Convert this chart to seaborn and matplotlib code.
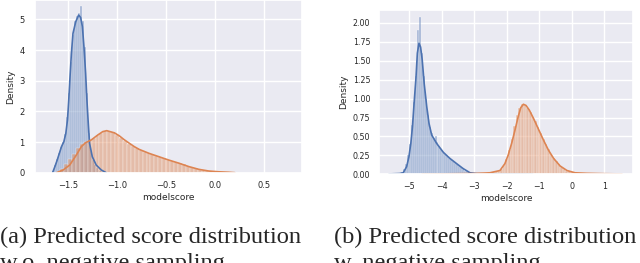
import numpy as np
import pandas as pd
import matplotlib
matplotlib.use("Agg")
import matplotlib.pyplot as plt
import seaborn as sns

sns.set_theme(style="darkgrid")

# ---------------- data ----------------
# (a) w.o. negative sampling
a_blue_start, a_blue_width = -1.66, 0.02
a_blue_hist = [0.05, 0.25, 0.45, 0.65, 0.85, 1.0, 1.25, 1.8, 2.6, 3.6, 4.5, 4.95, 5.1,
               5.2, 5.45, 4.95, 4.1, 2.6, 1.3, 0.7, 0.42, 0.25, 0.14, 0.08, 0.05, 0.03]
a_blue_kde_x = [-1.658, -1.634, -1.611, -1.591, -1.567, -1.543, -1.523, -1.506, -1.493,
                -1.48, -1.466, -1.45, -1.422, -1.392, -1.372, -1.354, -1.338, -1.321,
                -1.308, -1.294, -1.281, -1.253, -1.213, -1.162, -1.112]
a_blue_kde_y = [0.0, 0.2, 0.41, 0.61, 0.85, 1.01, 1.28, 1.72, 2.37,
                3.13, 3.89, 4.54, 4.92, 5.14, 5.06, 4.76, 4.1, 3.24,
                2.37, 1.61, 0.96, 0.52, 0.25, 0.09, 0.0]

a_orange_start, a_orange_width = -1.62, 0.04
a_orange_hist = [0.03, 0.12, 0.27, 0.45, 0.62, 0.82, 0.94, 1.0, 1.05, 1.12, 1.22, 1.3, 1.35,
                 1.37, 1.32, 1.24, 1.14, 1.04, 0.95, 0.86, 0.8, 0.74, 0.68, 0.64, 0.6,
                 0.56, 0.51, 0.47, 0.43, 0.39, 0.35, 0.31, 0.27, 0.22, 0.18, 0.14, 0.11,
                 0.08, 0.06, 0.05, 0.04, 0.03, 0.02, 0.015, 0.01]
a_orange_kde_x = [-1.617, -1.55, -1.483, -1.415, -1.365, -1.321, -1.263, -1.197, -1.146,
                  -1.106, -1.028, -0.977, -0.93, -0.876, -0.825, -0.775, -0.674, -0.573,
                  -0.472, -0.37, -0.27, -0.168, -0.067, 0.034, 0.135, 0.2]
a_orange_kde_y = [0.0, 0.09, 0.25, 0.58, 0.85, 0.98, 1.07, 1.23, 1.34,
                  1.37, 1.3, 1.2, 1.08, 0.96, 0.85, 0.76, 0.63, 0.52,
                  0.41, 0.31, 0.2, 0.11, 0.055, 0.03, 0.015, 0.0]

# (b) w. negative sampling
b_blue_start, b_blue_width = -5.60, 0.06
b_blue_hist = [0.005, 0.005, 0.005, 0.008, 0.01, 0.015, 0.03, 0.07, 0.14, 0.25, 0.4,
               0.65, 0.95, 1.3, 1.9, 2.08, 1.6, 1.3, 1.0, 0.78, 0.63, 0.55, 0.48, 0.5,
               0.43, 0.38, 0.34, 0.3, 0.27, 0.24, 0.22, 0.2, 0.17, 0.15, 0.13, 0.11,
               0.09, 0.07, 0.05, 0.04, 0.03, 0.02, 0.015, 0.01, 0.008]
b_blue_kde_x = [-5.62, -5.3, -5.185, -5.08, -5.01, -4.95, -4.9, -4.85, -4.79, -4.75,
                -4.7, -4.65, -4.6, -4.54, -4.46, -4.39, -4.31, -4.16, -3.95, -3.75,
                -3.54, -3.34, -3.13, -2.93, -2.5, -1.2]
b_blue_kde_y = [0.005, 0.01, 0.02, 0.1, 0.23, 0.41, 0.63, 0.94, 1.29, 1.6,
                1.73, 1.68, 1.51, 1.2, 0.89, 0.67, 0.52, 0.41, 0.29, 0.21,
                0.14, 0.075, 0.02, 0.01, 0.004, 0.0]

b_orange_start, b_orange_width = -3.0, 0.08
b_orange_hist = [0.01, 0.015, 0.02, 0.02, 0.02, 0.02, 0.02, 0.025, 0.03, 0.04, 0.07,
                 0.12, 0.2, 0.32, 0.47, 0.64, 0.78, 0.88, 0.93, 0.92, 0.88, 0.82, 0.76,
                 0.7, 0.63, 0.55, 0.47, 0.4, 0.33, 0.27, 0.22, 0.17, 0.13, 0.1, 0.07,
                 0.05, 0.04, 0.03, 0.025, 0.02, 0.02, 0.015, 0.012, 0.01, 0.01, 0.01,
                 0.008, 0.008, 0.007, 0.007, 0.006, 0.006, 0.005, 0.005, 0.005, 0.004,
                 0.004]
b_orange_kde_x = [-4.6, -3.0, -2.52, -2.21, -2.06, -1.96, -1.85, -1.75, -1.65, -1.57,
                  -1.49, -1.41, -1.31, -1.18, -1.03, -0.87, -0.72, -0.56, -0.36, -0.15,
                  0.1, 0.46, 1.0, 1.54]
b_orange_kde_y = [0.003, 0.01, 0.02, 0.05, 0.14, 0.25, 0.41, 0.58, 0.76, 0.88,
                  0.925, 0.91, 0.85, 0.74, 0.6, 0.45, 0.32, 0.21, 0.11, 0.05,
                  0.02, 0.013, 0.008, 0.005]

a_xticks = [-1.5, -1.0, -0.5, 0.0, 0.5]
a_xticklabels = ["\u22121.5", "\u22121.0", "\u22120.5", "0.0", "0.5"]
a_yticks = [0, 1, 2, 3, 4, 5]
b_xticks = [-5, -4, -3, -2, -1, 0, 1]
b_yticks = [0.0, 0.25, 0.5, 0.75, 1.0, 1.25, 1.5, 1.75, 2.0]

caption_a = ["(a) Predicted score distribution", "w.o. negative sampling"]
caption_b = ["(b) Predicted score distribution", "w. negative sampling"]

pal = sns.color_palette("deep")
BLUE, ORANGE = pal[0], pal[1]

W, H = 640, 263
fig = plt.figure(figsize=(W / 100, H / 100), dpi=100)


def add_ax(x0, y0, x1, y1):
    return fig.add_axes([x0 / W, 1 - y1 / H, (x1 - x0) / W, (y1 - y0) / H])


def draw_hist(ax, start, width, heights, color):
    n = len(heights)
    edges = [start + width * i for i in range(n + 1)]
    centers = [start + width * (i + 0.5) for i in range(n)]
    df = pd.DataFrame({"x": centers, "w": heights})
    sns.histplot(data=df, x="x", weights="w", bins=edges, stat="count",
                 color=color, alpha=0.45, edgecolor="white", linewidth=0.2, ax=ax)


def draw_kde(ax, xs, ys, color):
    sns.lineplot(x=xs, y=ys, color=color, linewidth=1.2, ax=ax, sort=False)


# ---- panel (a)
ax1 = add_ax(35, 0, 302, 172.7)
draw_hist(ax1, a_blue_start, a_blue_width, a_blue_hist, BLUE)
draw_kde(ax1, a_blue_kde_x, a_blue_kde_y, BLUE)
draw_hist(ax1, a_orange_start, a_orange_width, a_orange_hist, ORANGE)
draw_kde(ax1, a_orange_kde_x, a_orange_kde_y, ORANGE)
ax1.set_xlim(-1.837, 0.884)
ax1.set_ylim(0, 5.63)
ax1.set_xticks(a_xticks)
ax1.set_yticks(a_yticks)
ax1.set_xticklabels(a_xticklabels)
ax1.tick_params(axis="both", labelsize=6, length=0, colors="0.15")
ax1.tick_params(axis="y", pad=7.5)
ax1.tick_params(axis="x", pad=6)
ax1.set_xlabel("modelscore", fontsize=6.5, labelpad=2)
ax1.set_ylabel("Density", fontsize=6.5, labelpad=3.2)

# ---- panel (b)
ax2 = add_ax(379.3, 10, 633.3, 174.3)
draw_hist(ax2, b_blue_start, b_blue_width, b_blue_hist, BLUE)
draw_kde(ax2, b_blue_kde_x, b_blue_kde_y, BLUE)
draw_hist(ax2, b_orange_start, b_orange_width, b_orange_hist, ORANGE)
draw_kde(ax2, b_orange_kde_x, b_orange_kde_y, ORANGE)
ax2.set_xlim(-5.92, 1.89)
ax2.set_ylim(0, 2.17)
ax2.set_xticks(b_xticks)
ax2.set_yticks(b_yticks)
ax2.set_xticklabels([f"\u2212{abs(v)}" if v < 0 else str(v) for v in b_xticks])
ax2.set_yticklabels([f"{v:.2f}" for v in b_yticks])
ax2.tick_params(axis="both", labelsize=5.7, length=0, colors="0.15")
ax2.tick_params(axis="y", pad=6.5)
ax2.tick_params(axis="x", pad=5.5)
ax2.set_xlabel("modelscore", fontsize=6.5, labelpad=2)
ax2.set_ylabel("Density", fontsize=6.5, labelpad=3)

for ax in (ax1, ax2):
    ax.grid(True, color="white", linewidth=1.0)

for x0, lines in ((0, caption_a), (334, caption_b)):
    fig.text(x0 / W, 1 - 243 / H, lines[0], family="Liberation Serif",
             fontsize=17.6, ha="left", va="baseline")
    fig.text(x0 / W, 1 - 269 / H, lines[1], family="Liberation Serif",
             fontsize=17.6, ha="left", va="baseline")

fig.savefig("out.png", dpi=100)
